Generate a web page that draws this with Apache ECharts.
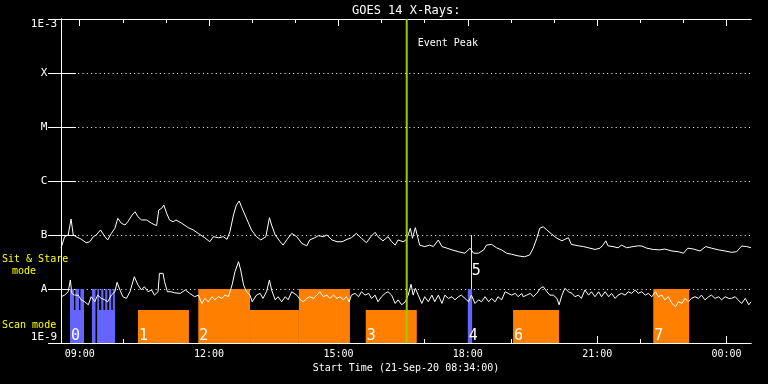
<!DOCTYPE html>
<html><head><meta charset="utf-8">
<script src="https://cdn.jsdelivr.net/npm/echarts@6/dist/echarts.min.js"></script>
<style>html,body{margin:0;padding:0;background:#000;}#c{width:768px;height:384px;}</style>
</head><body><div id="c"></div>
<script>
// ---- data ----
const titleText = 'GOES 14 X-Rays:';
const startMinuteOfDay = 8 * 60 + 34;            // 21-Sep-20 08:34:00
const axisName = 'Start Time (21-Sep-20 08:34:00)';
const xMin = 0, xMax = 960;                       // minutes after start
const hourTicks = [26, 86, 146, 206, 266, 326, 386, 446, 506, 566, 626, 686, 746, 806, 866, 926];
const majorTicks = [26, 206, 386, 566, 746, 926]; // 09:00 12:00 15:00 18:00 21:00 00:00
const yTickValues = [1e-9, 1e-8, 1e-7, 1e-6, 1e-5, 1e-4, 1e-3];
const yTickLabels = ['1E-9', 'A', 'B', 'C', 'M', 'X', '1E-3'];

// long channel (1-8 A), minutes after start / flux W m^-2
const longTimes = [0,5,10,14,17,21,28,35,40,45,49,55,61,65,70,75,79,84,89,93,99,103,107,112,119,126,133,136,140,143,147,151,156,160,
 168,177,184,191,200,207,212,219,226,231,235,240,244,248,251,258,265,272,278,285,290,293,298,305,309,314,321,
 328,335,342,346,353,358,365,370,377,384,391,398,404,411,418,425,431,437,441,448,455,460,465,469,476,480,
 483,486,489,493,495,499,506,513,518,525,530,537,544,553,562,569,574,581,588,592,599,606,613,620,627,636,645,
 652,657,662,666,671,676,683,690,697,701,706,710,720,727,736,743,750,754,758,761,768,775,780,787,796,803,
 808,815,824,833,840,850,859,866,872,880,889,897,905,915,924,933,940,947,954,960];
const longFlux = [5.7e-8,9.3e-8,1.0e-7,1.98e-7,1.0e-7,9.3e-8,8.4e-8,7.2e-8,7.5e-8,9.3e-8,1.0e-7,1.24e-7,9.3e-8,8.1e-8,1.07e-7,1.33e-7,2.04e-7,1.65e-7,1.53e-7,1.76e-7,2.35e-7,2.7e-7,2.18e-7,1.9e-7,1.9e-7,1.65e-7,1.49e-7,2.9e-7,3.12e-7,3.59e-7,2.52e-7,1.9e-7,1.76e-7,1.9e-7,
 1.65e-7,1.37e-7,1.24e-7,1.07e-7,8.9e-8,7.5e-8,9.3e-8,8.9e-8,9.3e-8,8.3e-8,1.15e-7,2.35e-7,3.59e-7,4.26e-7,3.34e-7,2.04e-7,1.24e-7,9.3e-8,8.1e-8,9.3e-8,2.09e-7,1.53e-7,1.0e-7,7.5e-8,6.5e-8,8.1e-8,1.07e-7,
 9.3e-8,7.0e-8,6.3e-8,8.1e-8,8.9e-8,9.7e-8,9.3e-8,1.0e-7,8.1e-8,7.5e-8,7.5e-8,8.3e-8,8.9e-8,1.07e-7,8.7e-8,7.2e-8,9.3e-8,1.12e-7,9.3e-8,7.8e-8,9.3e-8,7.5e-8,6.5e-8,8.1e-8,7.5e-8,8.1e-8,
 1.0e-7,1.33e-7,8.7e-8,1.37e-7,1.42e-7,6.5e-8,6.1e-8,6.5e-8,6.1e-8,8.1e-8,6.1e-8,5.7e-8,5.3e-8,4.9e-8,4.6e-8,5.7e-8,4.6e-8,4.6e-8,5.3e-8,6.5e-8,6.7e-8,5.8e-8,5.3e-8,4.6e-8,4.4e-8,4.1e-8,3.96e-8,
 4.26e-8,5.7e-8,8.7e-8,1.33e-7,1.42e-7,1.24e-7,1.03e-7,8.7e-8,7.8e-8,8.3e-8,8.9e-8,6.7e-8,6.3e-8,6.1e-8,5.7e-8,5.4e-8,5.7e-8,6.5e-8,7.8e-8,6.3e-8,6.1e-8,5.8e-8,6.5e-8,5.8e-8,6.1e-8,6.3e-8,
 6.25e-8,5.7e-8,5.4e-8,5.3e-8,5.5e-8,5.05e-8,4.9e-8,4.6e-8,5.7e-8,5.5e-8,5.05e-8,6.1e-8,5.7e-8,5.3e-8,5.05e-8,4.78e-8,4.9e-8,6.25e-8,6.1e-8,5.8e-8];

// short channel (0.5-4 A)
const shortTimes = [0,5,10,13,15,19,24,28,33,38,42,47,51,56,61,65,70,75,78,82,86,91,96,102,107,112,116,121,126,130,135,137,142,144,148,153,158,
 166,173,179,186,191,196,200,205,210,214,219,224,228,233,238,242,247,250,254,258,263,266,272,277,281,286,290,293,298,302,307,312,316,321,
 323,328,333,337,342,346,351,356,360,365,370,374,379,384,388,393,397,401,404,409,414,418,423,428,432,437,441,446,451,455,460,465,469,474,479,
 483,487,490,493,497,502,506,511,516,520,525,530,534,539,544,548,553,557,562,567,571,576,581,585,590,595,599,604,608,613,618,622,627,632,636,641,
 643,648,653,657,662,667,671,676,680,685,690,693,697,701,706,711,715,720,724,729,734,738,743,748,752,757,762,766,771,775,780,785,789,794,799,
 803,808,813,817,822,827,831,836,840,845,850,855,859,864,868,873,877,882,887,891,896,901,905,910,915,919,924,929,933,938,942,947,952,957,960];
const shortFlux = [7.2e-9,7.7e-9,8.9e-9,1.47e-8,8.3e-9,7.7e-9,7.7e-9,6.3e-9,5.8e-9,5.1e-9,7.2e-9,5.8e-9,7.7e-9,6.7e-9,6.3e-9,5.8e-9,7.7e-9,8.9e-9,1.33e-8,9.6e-9,7.2e-9,6.7e-9,8.9e-9,1.69e-8,1.19e-8,9.6e-9,1.10e-8,8.9e-9,9.6e-9,7.7e-9,8.9e-9,1.95e-8,1.95e-8,1.37e-8,8.9e-9,8.9e-9,8.5e-9,
 8.3e-9,9.6e-9,8.3e-9,7.2e-9,7.7e-9,5.4e-9,6.7e-9,5.8e-9,7.2e-9,6.3e-9,7.2e-9,6.7e-9,7.7e-9,7.2e-9,1.19e-8,2.09e-8,3.20e-8,2.25e-8,1.19e-8,8.9e-9,7.7e-9,5.8e-9,7.7e-9,8.3e-9,6.7e-9,8.9e-9,1.47e-8,9.6e-9,6.3e-9,7.2e-9,5.8e-9,7.2e-9,6.3e-9,8.9e-9,
 9.6e-9,7.7e-9,6.3e-9,5.8e-9,6.7e-9,7.2e-9,6.7e-9,7.7e-9,8.9e-9,7.2e-9,7.7e-9,6.7e-9,7.7e-9,6.7e-9,7.2e-9,6.3e-9,7.2e-9,5.8e-9,7.7e-9,8.3e-9,7.2e-9,8.9e-9,7.7e-9,8.3e-9,6.7e-9,7.7e-9,5.8e-9,7.2e-9,8.3e-9,8.9e-9,7.7e-9,5.4e-9,6.3e-9,5.1e-9,5.8e-9,
 7.7e-9,1.22e-8,7.7e-9,1.03e-8,7.7e-9,5.4e-9,7.2e-9,5.8e-9,7.7e-9,5.8e-9,7.7e-9,5.4e-9,7.7e-9,6.7e-9,7.2e-9,6.3e-9,7.2e-9,7.7e-9,6.7e-9,5.8e-9,7.7e-9,5.4e-9,6.3e-9,5.8e-9,7.2e-9,5.8e-9,6.7e-9,5.8e-9,7.2e-9,6.3e-9,8.9e-9,8.3e-9,7.7e-9,8.3e-9,7.2e-9,8.3e-9,
 7.2e-9,7.7e-9,8.3e-9,7.2e-9,8.3e-9,1.03e-8,1.10e-8,8.9e-9,7.7e-9,7.7e-9,6.7e-9,5.1e-9,7.7e-9,1.03e-8,8.9e-9,8.3e-9,7.2e-9,7.7e-9,6.7e-9,9.6e-9,7.7e-9,8.9e-9,7.2e-9,8.9e-9,7.2e-9,8.9e-9,7.2e-9,8.3e-9,6.7e-9,7.7e-9,8.3e-9,7.7e-9,8.9e-9,8.3e-9,9.6e-9,
 8.3e-9,8.9e-9,7.7e-9,8.3e-9,7.2e-9,8.9e-9,7.2e-9,7.7e-9,6.3e-9,7.2e-9,5.4e-9,4.7e-9,5.8e-9,5.4e-9,6.7e-9,5.8e-9,6.7e-9,7.2e-9,6.7e-9,7.7e-9,6.3e-9,7.2e-9,7.7e-9,6.7e-9,7.2e-9,6.3e-9,7.2e-9,6.7e-9,6.7e-9,7.2e-9,6.3e-9,5.4e-9,6.7e-9,5.1e-9,5.8e-9];

// observing-mode intervals: start, end (minutes), top flux level, kind (0 = blue, 1 = orange)
const modeStart = [12.5,12.5,20,27,43,50.5,50.5,56,61.5,67,72,107,191,263,331,424,566,629,824];
const modeEnd   = [32,18,25,32,48,75,53,59,64.5,70,75,178,263,331,402,495,572,693,874];
const modeTop   = [4.1e-9,1e-8,1e-8,1e-8,1e-8,4.1e-9,1e-8,1e-8,1e-8,1e-8,1e-8,4.1e-9,1e-8,4.1e-9,1e-8,4.1e-9,1e-8,4.1e-9,1e-8];
const modeKind  = [0,0,0,0,0,0,0,0,0,0,0,1,1,1,1,1,0,1,1];
const modeLabelText = ['0','1','2','3','4','5','6','7'];
const modeLabelTime = [12.5,107,191,424,566,570,629,824];
const modeLabelFlux = [1e-9,1e-9,1e-9,1e-9,1e-9,1.6e-8,1e-9,1e-9];
const marker5 = [570, 1e-8, 1e-7];   // time, low flux, high flux
const peakTime = 481;                 // 16:35
const peakText = 'Event Peak';
const sideLabels = ['Sit & Stare', 'mode', 'Scan mode'];

// ---- chart ----
const FONT = '"DejaVu Sans Mono", monospace';
const modeColors = ['#6464ff', '#ff8000'];
const chart = echarts.init(document.getElementById('c'), null, {renderer: 'canvas'});
const fmtTime = v => {
  const t = ((startMinuteOfDay + v) % 1440 + 1440) % 1440;
  const h = Math.floor(t / 60), m = Math.round(t % 60);
  return String(h).padStart(2, '0') + ':' + String(m).padStart(2, '0');
};
const baseX = {type: 'value', min: xMin, max: xMax, gridIndex: 0, splitLine: {show: false},
  axisLine: {show: true, lineStyle: {color: '#fff', width: 1}}};
const baseY = {type: 'log', logBase: 10, min: 1e-9, max: 1e-3, gridIndex: 0,
  axisLine: {show: true, lineStyle: {color: '#fff', width: 1}}};

chart.setOption({
  backgroundColor: '#000',
  animation: false,
  title: {text: titleText, left: 347, top: 0,
    textStyle: {color: '#fff', fontSize: 12, fontWeight: 'normal', fontFamily: FONT}},
  graphic: [
    {type: 'text', left: 2, top: 254, style: {text: sideLabels[0], fill: '#ffff00', font: '10px ' + FONT}},
    {type: 'text', left: 12, top: 266, style: {text: sideLabels[1], fill: '#ffff00', font: '10px ' + FONT}},
    {type: 'text', left: 2, top: 320, style: {text: sideLabels[2], fill: '#ffff00', font: '10px ' + FONT}}
  ],
  grid: {left: 61, right: 17, top: 19, bottom: 41, containLabel: false},
  xAxis: [
    Object.assign({}, baseX, {position: 'bottom',
      name: axisName, nameLocation: 'middle', nameGap: 19,
      nameTextStyle: {color: '#fff', fontSize: 10, fontFamily: FONT},
      axisTick: {show: true, inside: true, length: 4, customValues: hourTicks, lineStyle: {color: '#fff'}},
      axisLabel: {show: true, customValues: majorTicks, formatter: fmtTime, color: '#fff', fontSize: 10, fontFamily: FONT, margin: 6}}),
    Object.assign({}, baseX, {position: 'bottom',
      axisTick: {show: true, inside: true, length: 7, customValues: majorTicks, lineStyle: {color: '#fff'}},
      axisLabel: {show: false}}),
    Object.assign({}, baseX, {position: 'top',
      axisTick: {show: true, inside: true, length: 4, customValues: hourTicks, lineStyle: {color: '#fff'}},
      axisLabel: {show: false}}),
    Object.assign({}, baseX, {position: 'top',
      axisTick: {show: true, inside: true, length: 7, customValues: majorTicks, lineStyle: {color: '#fff'}},
      axisLabel: {show: false}})
  ],
  yAxis: [
    Object.assign({}, baseY, {position: 'left',
      axisTick: {show: true, inside: true, length: 15, lineStyle: {color: '#fff'}},
      axisLabel: {show: true, color: '#fff', fontSize: 11, fontFamily: FONT, align: 'center', margin: 17,
        showMinLabel: true, showMaxLabel: true,
        verticalAlignMaxLabel: 'top', verticalAlignMinLabel: 'bottom',
        formatter: v => { const i = yTickValues.findIndex(t => Math.abs(Math.log10(t) - Math.log10(v)) < 1e-6); return i >= 0 ? yTickLabels[i] : ''; }},
      splitLine: {show: true, lineStyle: {color: '#fff', width: 1, type: [1, 3.3]}}}),
    Object.assign({}, baseY, {position: 'right',
      axisTick: {show: true, inside: true, length: 13, lineStyle: {color: '#fff'}},
      axisLabel: {show: false}, splitLine: {show: false}})
  ],
  series: [
    {type: 'custom', name: 'modes', xAxisIndex: 0, yAxisIndex: 0, z: 1, silent: true,
      data: modeStart.map((s, i) => [s, modeEnd[i], modeTop[i], modeKind[i]]),
      encode: {x: [0, 1], y: 2},
      renderItem: (params, api) => {
        const p0 = api.coord([api.value(0), 1e-9]);
        const p1 = api.coord([api.value(1), api.value(2)]);
        return {type: 'rect', shape: {x: p0[0], y: p1[1], width: p1[0] - p0[0], height: p0[1] - p1[1]},
          style: {fill: modeColors[api.value(3)]}};
      }},
    {type: 'custom', name: 'marker5', xAxisIndex: 0, yAxisIndex: 0, z: 2, silent: true,
      data: [marker5], encode: {x: 0, y: [1, 2]},
      renderItem: (params, api) => {
        const a = api.coord([api.value(0), api.value(1)]);
        const b = api.coord([api.value(0), api.value(2)]);
        return {type: 'line', shape: {x1: Math.round(a[0]) + 0.5, y1: a[1], x2: Math.round(a[0]) + 0.5, y2: b[1]},
          style: {stroke: '#ffff00', lineWidth: 1}};
      }},
    {type: 'line', name: 'long', data: longTimes.map((t, i) => [t, longFlux[i]]),
      xAxisIndex: 0, yAxisIndex: 0, showSymbol: false, symbol: 'none', z: 3, silent: true,
      lineStyle: {color: '#fff', width: 1}, itemStyle: {color: '#fff'}},
    {type: 'line', name: 'short', data: shortTimes.map((t, i) => [t, shortFlux[i]]),
      xAxisIndex: 0, yAxisIndex: 0, showSymbol: false, symbol: 'none', z: 3, silent: true,
      lineStyle: {color: '#fff', width: 1}, itemStyle: {color: '#fff'}},
    {type: 'custom', name: 'modeLabels', xAxisIndex: 0, yAxisIndex: 0, z: 4, silent: true,
      data: modeLabelTime.map((t, i) => [t, modeLabelFlux[i]]), encode: {x: 0, y: 1},
      renderItem: (params, api) => {
        const p = api.coord([api.value(0), api.value(1)]);
        return {type: 'text', x: p[0] + 1, y: p[1] + 1,
          style: {text: modeLabelText[params.dataIndex], fill: '#fff', font: '15px ' + FONT,
            textAlign: 'left', textVerticalAlign: 'bottom'}};
      }},
    {type: 'custom', name: 'peak', xAxisIndex: 0, yAxisIndex: 0, z: 5, silent: true,
      data: [[peakTime, 1e-3]], encode: {x: 0, y: 1},
      renderItem: (params, api) => {
        const top = api.coord([api.value(0), 1e-3]);
        const bot = api.coord([api.value(0), 1e-9]);
        return {type: 'group', children: [
          {type: 'line', shape: {x1: top[0], y1: top[1], x2: bot[0], y2: bot[1]}, style: {stroke: '#99cc00', lineWidth: 2}},
          {type: 'text', x: top[0] + 11, y: top[1] + 24,
            style: {text: peakText, fill: '#fff', font: '10px ' + FONT, textAlign: 'left', textVerticalAlign: 'middle'}}
        ]};
      }}
  ]
});
</script>
</body></html>
